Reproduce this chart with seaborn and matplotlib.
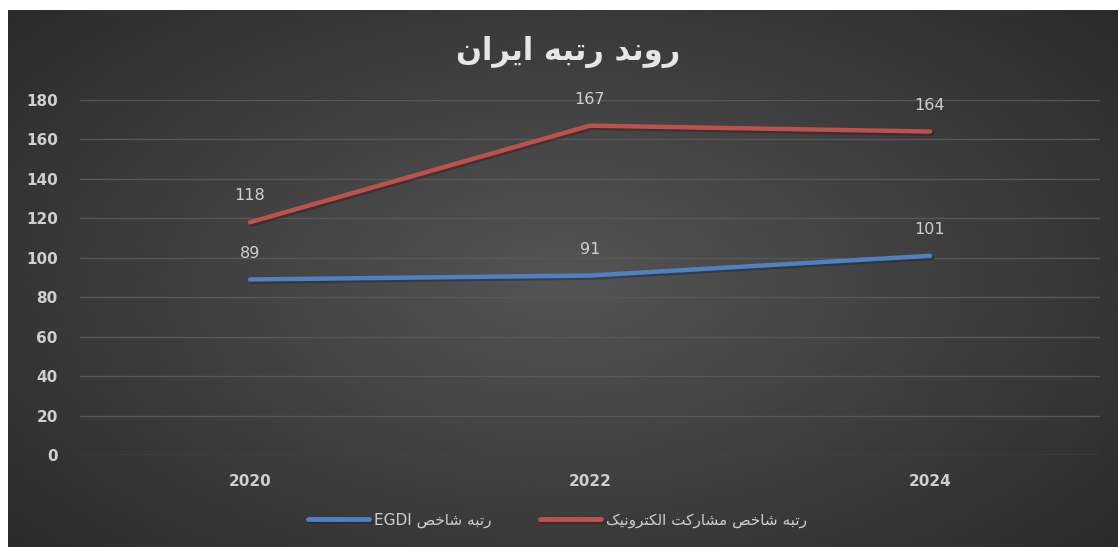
import numpy as np
import pandas as pd
import matplotlib
matplotlib.use("Agg")
import matplotlib.pyplot as plt
import matplotlib.patheffects as pe
import seaborn as sns

# ---- data ----
years = ["2020", "2022", "2024"]
egdi_rank = [89, 91, 101]
epart_rank = [118, 167, 164]
series_names = ["رتبه شاخص EGDI", "رتبه شاخص مشارکت الکترونیک"]
series_colors = ["#4f7fc4", "#c0504d"]
y_ticks = [0, 20, 40, 60, 80, 100, 120, 140, 160, 180]
title_text = "روند رتبه ایران"

# ---- minimal Persian shaping (presentation forms, visual order) ----
FORMS = {
    "ا": ("\uFE8D", "\uFE8E", None, None),
    "ب": ("\uFE8F", "\uFE90", "\uFE91", "\uFE92"),
    "ت": ("\uFE95", "\uFE96", "\uFE97", "\uFE98"),
    "خ": ("\uFEA5", "\uFEA6", "\uFEA7", "\uFEA8"),
    "د": ("\uFEA9", "\uFEAA", None, None),
    "ر": ("\uFEAD", "\uFEAE", None, None),
    "ش": ("\uFEB5", "\uFEB6", "\uFEB7", "\uFEB8"),
    "ص": ("\uFEB9", "\uFEBA", "\uFEBB", "\uFEBC"),
    "ل": ("\uFEDD", "\uFEDE", "\uFEDF", "\uFEE0"),
    "م": ("\uFEE1", "\uFEE2", "\uFEE3", "\uFEE4"),
    "ن": ("\uFEE5", "\uFEE6", "\uFEE7", "\uFEE8"),
    "ه": ("\uFEE9", "\uFEEA", "\uFEEB", "\uFEEC"),
    "و": ("\uFEED", "\uFEEE", None, None),
    "ی": ("\uFBFC", "\uFBFD", "\uFBFE", "\uFBFF"),
    "ک": ("\uFB8E", "\uFB8F", "\uFB90", "\uFB91"),
}


def shape_word(word):
    out = []
    n = len(word)
    for i, ch in enumerate(word):
        f = FORMS.get(ch)
        if f is None:
            out.append(ch)
            continue
        prev = word[i - 1] if i > 0 else None
        nxt = word[i + 1] if i < n - 1 else None
        join_r = prev in FORMS and FORMS[prev][2] is not None
        join_l = f[2] is not None and nxt in FORMS
        if join_r and join_l:
            out.append(f[3])
        elif join_r:
            out.append(f[1])
        elif join_l:
            out.append(f[2])
        else:
            out.append(f[0])
    return "".join(out)


def rtl(text):
    words = []
    for w in text.split(" "):
        if any(c in FORMS for c in w):
            words.append(shape_word(w)[::-1])
        else:
            words.append(w)
    return " ".join(words[::-1])


# ---- figure ----
sns.set_theme(style="dark")
plt.rcParams["font.family"] = ["DejaVu Sans"]

W, H = 1118, 547
fig = plt.figure(figsize=(W / 100, H / 100), dpi=100, facecolor="white")

# dark radial-gradient backdrop
bg = fig.add_axes([8 / W, 0, (W - 8) / W, (H - 10) / H])
yy, xx = np.mgrid[-1:1:300j, -1:1:600j]
r = np.sqrt((xx / 1.0) ** 2 + (yy / 1.15) ** 2)
shade = 0.33 - 0.17 * np.clip(r, 0, 1.4) / 1.4
bg.imshow(shade, cmap="gray", vmin=0, vmax=1, aspect="auto",
          extent=[0, 1, 0, 1], interpolation="bicubic")
bg.set_axis_off()

ax = fig.add_axes([80 / W, 1 - 455 / H, 1020 / W, 355 / H])
ax.set_facecolor("none")

df = pd.DataFrame({
    "year": years * 2,
    "rank": egdi_rank + epart_rank,
    "series": [series_names[0]] * len(years) + [series_names[1]] * len(years),
})
df["label"] = df["series"].map(rtl)
hue_order = [rtl(s) for s in series_names]

sns.lineplot(data=df, x="year", y="rank", hue="label", hue_order=hue_order,
             palette=series_colors, linewidth=3.2, sort=False, ax=ax,
             path_effects=[pe.SimpleLineShadow(offset=(1.5, -1.5), alpha=0.35),
                           pe.Normal()])

# value labels above each point
for vals in (egdi_rank, epart_rank):
    for i, v in enumerate(vals):
        ax.annotate(str(v), (i, v), xytext=(0, 19), textcoords="offset points",
                    ha="center", va="center", fontsize=11.5, color="#d0d0d0")

ax.set_xlim(-0.5, 2.5)
ax.set_ylim(0, 180)
ax.set_yticks(y_ticks)
ax.grid(axis="y", color="#575757", linewidth=1.0)
ax.grid(axis="x", visible=False)
for s in ax.spines.values():
    s.set_visible(False)
ax.tick_params(axis="both", length=0, colors="#cfcfcf", labelsize=11)
ax.tick_params(axis="y", pad=16)
ax.tick_params(axis="x", pad=14)
for t in ax.get_yticklabels() + ax.get_xticklabels():
    t.set_fontweight("bold")
ax.set_xlabel("")
ax.set_ylabel("")

leg = ax.legend(loc="center", bbox_to_anchor=(0.468, -0.183), ncol=2,
                frameon=False, fontsize=11, handlelength=4.0,
                handletextpad=0.3, columnspacing=3.2,
                labelcolor="#cfcfcf")
for line in leg.get_lines():
    line.set_linewidth(3.5)

fig.text(568 / W, 1 - 52 / H, rtl(title_text), ha="center", va="center",
         fontsize=22, fontweight="bold", color="#e6e6e6")

fig.savefig("out.png", dpi=100, facecolor="white")
